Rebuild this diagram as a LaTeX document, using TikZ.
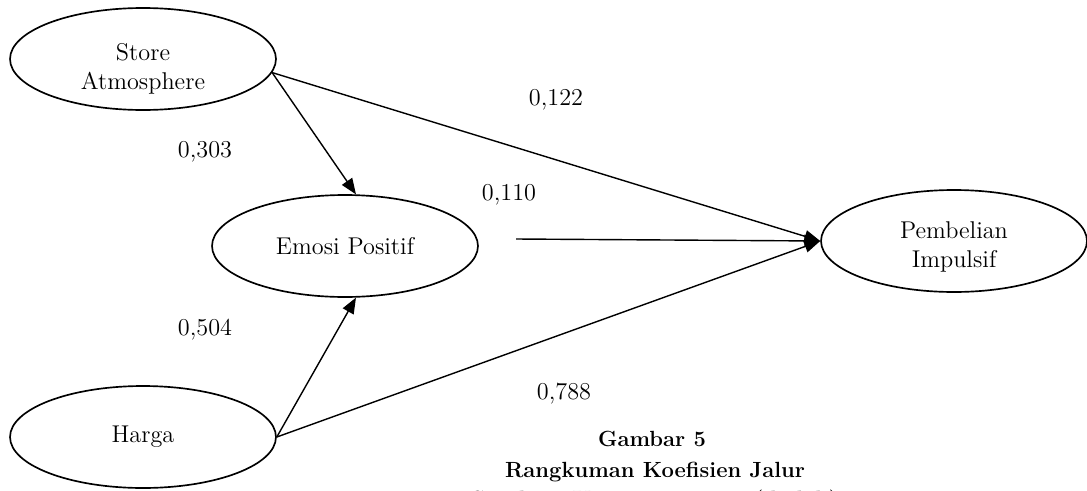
\documentclass[tikz,border=0pt]{standalone}
\usepackage{tikz}
\usetikzlibrary{arrows.meta,shapes.geometric}

\begin{document}
\begin{tikzpicture}[x=0.02cm,y=-0.02cm,
  latent/.style={draw,ellipse,line width=0.95pt,minimum width=5.32cm,minimum height=2.04cm,inner sep=0pt,align=center,font=\fontsize{13.8}{16.5}\selectfont},
  link/.style={line width=0.8pt,-{Triangle[length=9pt,width=7pt]}},
  coef/.style={font=\fontsize{13.8}{16}\selectfont},
  capt/.style={anchor=base,font=\fontsize{12.5}{15}\selectfont\bfseries}]
\useasboundingbox (0,0) rectangle (1087,490);

\node[latent] (store) at (143,59) {\rule{0pt}{20.5pt}Store\\Atmosphere};
\node[latent] (emosi) at (345,246) {Emosi Positif};
\node[latent] (harga) at (143,437) {Harga};
\node[latent] (beli) at (954,241) {\rule{0pt}{16.5pt}Pembelian\\Impulsif};

\coordinate (emosiout) at (516,239);

\draw[link] (store.-6) -- (emosi.78);
\draw[link] (store.-6) -- (beli.west);
\draw[link] (emosiout) -- (beli.west);
\draw[link] (harga.east) -- (emosi.-78);
\draw[link] (harga.east) -- (beli.west);

\node[coef] (c303) at (205,152) {0,303};
\node[coef] (c122) at (556,100) {0,122};
\node[coef] (c110) at (509,195) {0,110};
\node[coef] (c504) at (205,330) {0,504};
\node[coef] (c788) at (564,394) {0,788};

\node[capt] (cap1) at (652,446) {Gambar 5};
\node[capt] (cap2) at (655,477) {Rangkuman Koefisien Jalur};
\node[capt] (cap3) at (655,506) {Sumber: Kuesioner, 2021 (diolah)};

\end{tikzpicture}
\end{document}
